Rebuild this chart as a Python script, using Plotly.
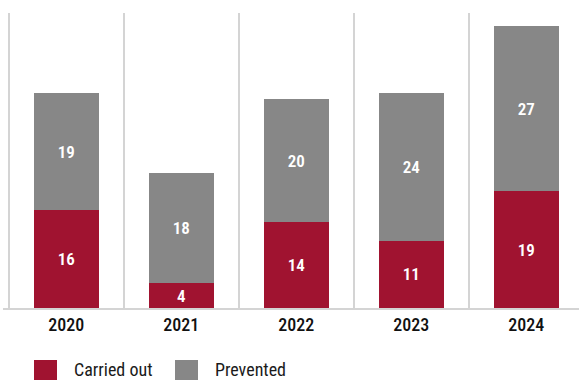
import plotly.graph_objects as go

years = ["2020", "2021", "2022", "2023", "2024"]
carried_out = [16, 4, 14, 11, 19]
prevented = [19, 18, 20, 24, 27]
series_names = ["Carried out", "Prevented"]

RED = "#a01330"
GREY = "#878787"
FONT = "Roboto Condensed, Liberation Sans Narrow, DejaVu Sans Condensed, Roboto, sans-serif"

W, H = 579, 380
ML, MR, MT, MB = 3, 0, 13, 72
PW, PH = W - ML - MR, H - MT - MB


def px_x(x):
    return (x - ML) / PW


def px_y(y):
    return (H - MB - y) / PH


fig = go.Figure()
for name, vals, col in zip(series_names, [carried_out, prevented], [RED, GREY]):
    fig.add_trace(go.Bar(
        x=years, y=vals, name=name, marker=dict(color=col, line=dict(width=0)),
        text=[str(v) for v in vals], textposition="inside", insidetextanchor="middle",
        textangle=0,
        textfont=dict(color="white", size=17, family=FONT, weight=600),
        constraintext="none", showlegend=False, width=0.565,
    ))

# legend drawn as swatches + labels under the axis
legend_items = [(series_names[0], RED, 34, 72), (series_names[1], GREY, 175, 213)]
for label, col, sx, tx in legend_items:
    fig.add_shape(type="rect", xref="paper", yref="paper",
                  x0=px_x(sx), x1=px_x(sx + 23), y0=px_y(383), y1=px_y(360),
                  fillcolor=col, line=dict(width=0))
    fig.add_annotation(xref="paper", yref="paper", x=px_x(tx), y=px_y(369),
                       text=label, showarrow=False, xanchor="left", yanchor="middle",
                       font=dict(size=18, color="#1a1a1a", family=FONT))

fig.update_layout(
    width=W, height=H, margin=dict(l=ML, r=MR, t=MT, b=MB),
    barmode="stack", plot_bgcolor="white", paper_bgcolor="white",
    font=dict(family=FONT),
    xaxis=dict(type="category", range=[-0.55, 4.459], tickson="boundaries",
               showgrid=True, gridcolor="#d4d4d4", gridwidth=1.5,
               showline=True, linecolor="#d4d4d4", linewidth=1.5,
               ticks="", tickfont=dict(size=18, color="#111111", family=FONT, weight=500)),
    yaxis=dict(range=[0, 48.1], showgrid=False, zeroline=False, showticklabels=False,
               fixedrange=True),
)

fig.write_html("out.html")
